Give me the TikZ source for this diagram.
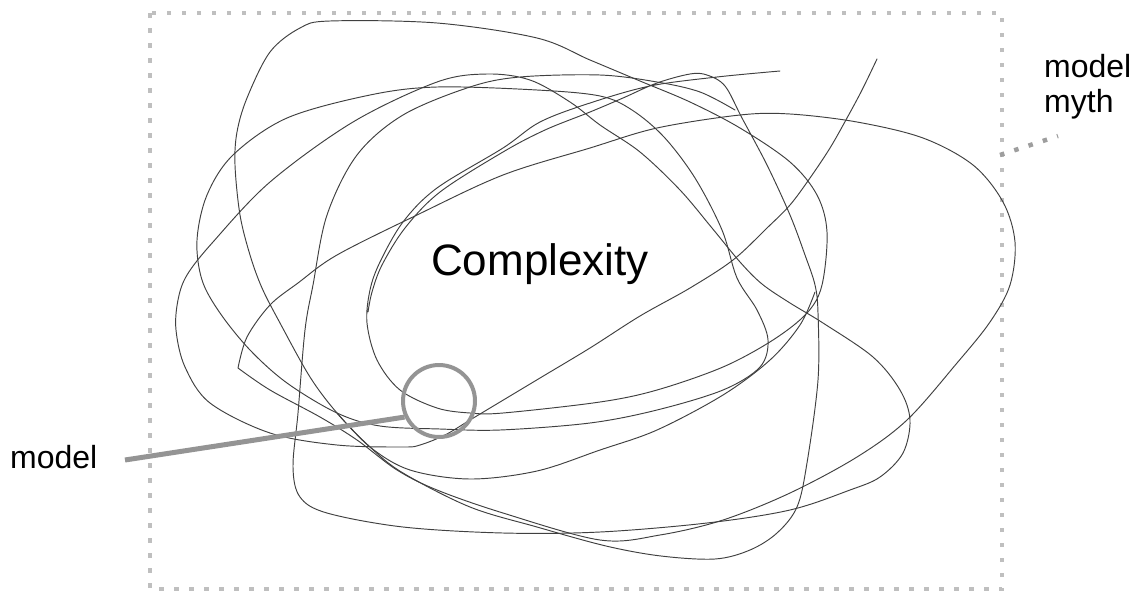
\documentclass[tikz,border=0pt]{standalone}
\usepackage{fontspec}
\setmainfont{Liberation Sans}
\begin{document}
\begin{tikzpicture}[x=1pt,y=-1pt,
  scrib/.style={line width=0.95pt, draw=black!75, line join=round, line cap=round},
  dotframe/.style={draw=black!25, line width=4.5pt, dash pattern=on 4.5pt off 10.5pt},
  dotlink/.style={draw=black!38, line width=4.5pt, dash pattern=on 4.5pt off 10.5pt},
  lbl/.style={inner sep=0pt, anchor=base west},
  lens/.style={circle, draw=black!42, line width=4pt, minimum size=72pt, inner sep=0pt},
  lensline/.style={draw=black!42, line width=5pt}]
\useasboundingbox (0,0) rectangle (1140,592);
% frame
\draw[dotframe] (150,13) rectangle (1002,589);
% labels
\node[lbl, font=\fontsize{44}{50}\selectfont] (cx) at (431,275) {Complexity};
\node[lbl, font=\fontsize{32}{35}\selectfont] (mdl) at (10,468) {model};
\node[lbl, font=\fontsize{32}{35}\selectfont] (mm1) at (1044,77) {model};
\node[lbl, font=\fontsize{32}{35}\selectfont] (mm2) at (1044,112) {myth};
% scribble strokes
\draw[scrib] plot[smooth, tension=0.55] coordinates {(780,71) (717,77) (650,86) (590,103) (540,122) (503,148) (437,188) (403,222) (380,262) (370,290) (367,323) (377,360) (400,390) (437,408) (470,413) (503,413) (600,402) (657,390) (723,367) (773,340) (807,313) (822,285) (827,232) (817,195) (790,162) (740,128) (690,102) (640,81) (590,60) (537,38) (437,23) (330,21) (300,28) (270,52) (247,98) (237,132) (235,165) (240,215) (250,255) (262,288) (280,323) (310,377) (337,413) (370,447) (403,473) (470,507) (537,527) (606,546) (661,556) (715,559) (750,550) (777,533) (797,507) (807,463) (818,380) (818,313) (815,285) (805,255) (790,215) (767,165) (742,118) (725,86) (707,75) (690,74) (657,83) (623,98) (590,112) (545,130) (503,152) (440,192) (405,228) (382,265) (372,292) (368,312)};
\draw[scrib] plot[smooth, tension=0.55] coordinates {(877,59) (862,90) (847,118) (830,148) (810,178) (790,205) (767,228) (733,260) (690,288) (640,316) (590,348) (540,378) (500,402) (470,420) (445,435) (420,445) (403,447) (337,445) (270,433) (210,403) (185,367) (176,330) (178,300) (187,275) (213,242) (270,182) (353,122) (437,82) (487,74) (530,80) (570,102) (600,125) (640,152) (680,190) (712,228) (740,262) (762,284) (790,303) (823,323) (873,357) (900,390) (910,420) (903,453) (880,477) (850,490) (790,510) (707,523) (600,532) (503,533) (403,527) (327,513) (300,497) (293,467) (298,413) (305,330) (313,285) (327,215) (357,155) (403,115) (470,87) (520,77) (600,75) (657,82) (700,92) (735,110)};
\draw[scrib] plot[smooth cycle, tension=0.55] coordinates {(202,280) (197,240) (207,195) (233,155) (287,118) (370,95) (437,87) (537,90) (600,96) (632,110) (664,137) (695,178) (722,230) (737,278) (757,310) (768,340) (760,367) (723,390) (657,410) (590,423) (500,430) (440,429) (380,426) (337,413) (287,383) (250,350) (220,313)};
\draw[scrib] plot[smooth, tension=0.55] coordinates {(238,368) (247,337) (270,305) (298,283) (337,255) (417,215) (503,175) (590,148) (657,128) (740,115) (790,114) (857,122) (923,138) (973,165) (1003,202) (1015,242) (1010,285) (990,322) (957,363) (907,420) (857,457) (790,493) (723,520) (660,535) (600,540) (503,513) (437,490) (397,470) (357,440) (320,417) (270,390) (238,368)};
\draw[scrib] plot[smooth, tension=0.55] coordinates {(337,413) (370,447) (410,470) (470,479) (537,471) (600,450) (657,430) (723,395) (770,360) (800,325) (815,292)};
% model lens
\node[lens] (lensc) at (439,401) {};
\coordinate (mlstart) at (125,460);
\draw[lensline] (mlstart) -- (lensc.205);
% myth link
\coordinate (mythA) at (1000,155);
\coordinate (mythB) at (1058,136);
\draw[dotlink] (mythA) -- (mythB);
\end{tikzpicture}
\end{document}
